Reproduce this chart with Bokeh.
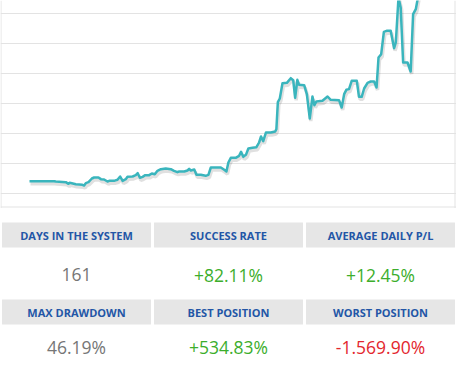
from bokeh.plotting import figure
from bokeh.layouts import column
from bokeh.models import Range1d, FixedTicker, Span, ColumnDataSource
from bokeh.embed import file_html
from bokeh.resources import INLINE
from bokeh.core.properties import value

# ---- equity curve (day index, cumulative %) ----
days = [0, 10.1, 10.8, 14.9, 16.0, 16.5, 19.0, 21.7, 22.4, 23.1, 24.2, 25.6, 26.5, 28.3, 29.3,
        30.6, 32.0, 32.7, 34.7, 36.1, 37.2, 38.2, 39.5, 40.2, 42.3, 43.6, 44.4, 45.3, 46.4,
        47.5, 49.1, 50.2, 51.4, 52.5, 53.9, 55.9, 58.0, 59.3, 60.7, 61.4, 63.5, 64.8, 65.5,
        66.2, 67.6, 68.5, 70.3, 72.3, 73.4, 74.4, 78.5, 79.9, 80.8, 81.6, 82.6, 84.6, 86.0,
        86.8, 87.7, 88.8, 89.8, 91.5, 93.1, 94.2, 95.0, 95.9, 97.0, 99.0, 100.8, 101.3, 101.9,
        102.7, 103.8, 105.6, 107.2, 108.2, 109.0, 109.9, 110.6, 112.7, 113.8, 115.0, 116.1,
        116.9, 117.7, 120.2, 122.3, 123.6, 127.0, 128.1, 129.1, 130.0, 131.1, 132.2, 134.3,
        135.2, 136.3, 137.3, 138.7, 140.0, 141.4, 142.4, 143.2, 144.3, 145.4, 146.5, 148.2,
        149.6, 150.3, 151.4, 152.3, 153.3, 155.1, 156.4, 157.4, 158.5, 160.5]
equity = [41.1, 41.1, 40.0, 37.8, 32.2, 35.6, 31.1, 28.9, 26.7, 34.4, 37.8, 50.0, 53.3, 53.3, 47.8,
          46.7, 40.0, 42.2, 42.2, 45.6, 56.7, 42.2, 47.8, 55.6, 56.7, 61.1, 67.8, 52.2, 55.6,
          61.1, 61.1, 66.7, 64.4, 75.6, 81.1, 83.3, 81.1, 75.6, 71.1, 73.3, 73.3, 76.7, 82.2,
          76.7, 80.0, 62.2, 62.2, 58.9, 62.2, 86.7, 86.7, 78.9, 73.3, 103.3, 118.9, 118.9, 125.6,
          138.9, 122.2, 128.9, 150.0, 152.2, 154.4, 170.0, 190.0, 174.4, 203.3, 203.3, 206.7, 214.4, 304.4,
          316.7, 367.8, 368.9, 384.4, 377.8, 318.9, 378.9, 362.2, 361.1, 331.1, 250.0, 323.3,
          294.4, 306.7, 308.9, 323.3, 312.2, 311.1, 286.7, 331.1, 345.6, 347.8, 375.6, 375.6,
          322.2, 322.2, 350.0, 368.9, 373.3, 373.3, 353.3, 453.3, 464.4, 538.9, 542.2, 542.2,
          484.4, 503.3, 653.3, 620.0, 436.7, 436.7, 406.7, 597.8, 614.4, 703.3]

grid_levels = [0, 100, 200, 300, 400, 500, 600, 700]

# ---- statistics panel ----
stat_labels = ["DAYS IN THE SYSTEM", "SUCCESS RATE", "AVERAGE DAILY P/L",
               "MAX DRAWDOWN", "BEST POSITION", "WORST POSITION"]
stat_values = ["161", "+82.11%", "+12.45%", "46.19%", "+534.83%", "-1.569.90%"]
stat_colors = ["#767676", "#3cae2c", "#3cae2c", "#767676", "#3cae2c", "#e3262d"]

FONT = "Open Sans"

# ---------------- chart ----------------
CH = 208
x_lo, x_hi = -11.9, 175.2
y_lo = -50.0
y_hi = y_lo + CH / 0.3
p = figure(width=456, height=CH, x_range=Range1d(x_lo, x_hi), y_range=Range1d(y_lo, y_hi),
           output_backend="svg", toolbar_location=None, min_border=0)
p.xaxis.visible = False
p.yaxis.visible = False
p.xgrid.visible = False
p.ygrid.ticker = FixedTicker(ticks=grid_levels)
p.ygrid.grid_line_color = "#e3e3e3"
p.ygrid.grid_line_width = 1
p.outline_line_color = None
p.background_fill_color = "white"
p.border_fill_color = "white"

px_day = (x_hi - x_lo) / 456.0
px_val = (y_hi - y_lo) / CH
for loc, dim in [(x_lo + 0.5 * px_day, "height"), (x_hi - 1.5 * px_day, "height"),
                 (y_lo + 1.5 * px_val, "width")]:
    p.add_layout(Span(location=loc, dimension=dim, line_color="#e3e3e3", line_width=1))

shadow_x = [d + 1.0 * px_day for d in days]
shadow_y = [v - 2.5 * px_val for v in equity]
p.line(shadow_x, shadow_y, line_color="#000000", line_alpha=0.12, line_width=3.5)
p.line(days, equity, line_color="#3ab5bd", line_width=2.5, line_join="round")

# ---------------- stats ----------------
H = 359 - CH
s = figure(width=456, height=H, x_range=Range1d(0, 3), y_range=Range1d(H, 0),
           output_backend="svg", toolbar_location=None, min_border=0)
s.axis.visible = False
s.grid.visible = False
s.outline_line_color = None
s.background_fill_color = "white"
s.border_fill_color = "white"

header_tops = [14, 91]
value_centers = [66, 138]
box_h = 25
cols = [i % 3 + 0.5 for i in range(6)]
hy = [header_tops[i // 3] + box_h / 2 for i in range(6)]
vy = [value_centers[i // 3] for i in range(6)]

src = ColumnDataSource(dict(x=cols, hy=hy, vy=vy, lab=stat_labels, val=stat_values, col=stat_colors))
s.rect(x="x", y="hy", width=0.98, height=box_h, height_units="screen", source=src,
       fill_color="#e6e6e6", line_color=None)
s.text(x="x", y="hy", text="lab", source=src, text_align="center", text_baseline="middle",
       text_font=value(FONT), text_font_style="bold", text_font_size="11px", text_color="#2356a6")
s.text(x="x", y="vy", text="val", source=src, text_align="center", text_baseline="middle",
       text_font=value(FONT), text_font_size="17.5px", text_color="col")

layout = column(p, s, spacing=0)
open("out.html", "w").write(file_html(layout, INLINE))
